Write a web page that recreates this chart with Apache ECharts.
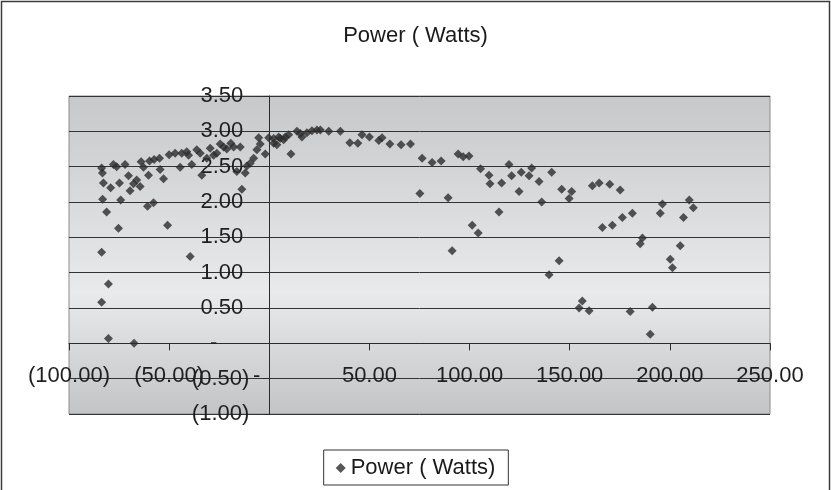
<!DOCTYPE html>
<html>
<head>
<meta charset="utf-8">
<script src="https://cdn.jsdelivr.net/npm/echarts@6/dist/echarts.min.js"></script>
<style>
  html, body { margin: 0; padding: 0; background: #ffffff; }
  #chart { width: 831px; height: 490px; }
</style>
</head>
<body>
<div id="chart"></div>
<script>
// Measured power samples: x position and power in watts
const powerX = [
  -83.7, -83.3, -82.8, -79.2, -83.2, -81.2, -75.3, -77.8, -76.2, -72.0,
  -74.8, -74.2, -70.3, -69.5, -67.8, -66.2, -64.5, -64.0, -62.8, -59.8,
  -60.3, -60.8, -57.8, -57.5, -54.8, -54.5, -52.8, -50.8, -50.0, -47.0,
  -44.5, -43.7, -41.2, -40.3, -38.7, -36.2, -34.5, -33.7, -31.2, -29.5,
  -27.8, -26.2, -24.5, -22.8, -21.2, -19.2, -17.8, -16.2, -14.5, -13.7,
  -12.0, -11.2, -9.5, -7.8, -6.2, -4.5, -5.3, -2.0, -0.3, 2.2, 4.7,
  -83.7, -39.5, -80.3, -83.7, -80.3, -67.5,
  2.2, 5.5, 8.0, 9.7, 10.8, 13.8, 16.3, 18.8, 21.3, 23.8,
  25.5, 29.7, 35.5, 40.2, 44.2, 46.3, 50.0, 54.7, 60.2, 65.8,
  70.5, 75.2, 76.3, 81.3, 85.8, 89.3, 94.3, 96.8, 99.7, 105.5,
  109.7, 110.2, 3.8, 7.2, 15.5, 56.3,
  114.7, 116.0, 119.7, 121.0, 124.7, 125.8, 129.7, 131.0, 134.7, 136.0,
  141.0, 146.0, 149.7, 151.0, 161.3, 164.7, 170.0, 175.2, 166.3, 171.3,
  176.3, 181.3, 195.2, 196.3, 206.8, 209.7, 211.7, 185.2, 186.3, 200.2,
  201.3, 205.2, 180.2, 191.3, 190.2, 91.3, 104.3, 101.3, 139.7, 144.7,
  156.3, 154.7, 159.7
];
const powerY = [
  2.48, 2.41, 2.27, 2.20, 2.04, 1.86, 1.63, 2.53, 2.50, 2.53,
  2.27, 2.03, 2.37, 2.16, 2.26, 2.31, 2.22, 2.57, 2.49, 2.58,
  2.38, 1.94, 1.99, 2.60, 2.62, 2.46, 2.33, 1.67, 2.67, 2.69,
  2.49, 2.69, 2.71, 2.66, 2.53, 2.74, 2.69, 2.38, 2.62, 2.76,
  2.66, 2.69, 2.82, 2.78, 2.75, 2.83, 2.78, 2.43, 2.78, 2.18,
  2.41, 2.51, 2.55, 2.62, 2.74, 2.82, 2.91, 2.68, 2.91, 2.90, 2.92,
  1.29, 1.23, 0.84, 0.58, 0.07, 0.00,
  2.83, 2.90, 2.92, 2.95, 2.68, 3.00, 2.92, 2.98, 3.01, 3.02,
  3.02, 3.00, 3.00, 2.84, 2.83, 2.95, 2.92, 2.87, 2.82, 2.81,
  2.82, 2.12, 2.62, 2.56, 2.58, 2.06, 2.68, 2.64, 2.65, 2.47,
  2.38, 2.26, 2.81, 2.88, 2.97, 2.91,
  1.86, 2.27, 2.53, 2.37, 2.15, 2.42, 2.37, 2.48, 2.29, 2.00,
  2.42, 2.18, 2.05, 2.15, 2.23, 2.27, 2.25, 2.17, 1.64, 1.67,
  1.78, 1.84, 1.84, 1.97, 1.78, 2.03, 1.92, 1.41, 1.49, 1.19,
  1.07, 1.38, 0.45, 0.51, 0.13, 1.31, 1.56, 1.67, 0.97, 1.17,
  0.60, 0.50, 0.46
];

const seriesName = 'Power ( Watts)';
const xRange = { min: -100, max: 250, step: 50 };
const yRange = { min: -1, max: 3.5, step: 0.5 };

const points = powerX.map((x, i) => [x, powerY[i]]);

// Accounting-style number format: negatives in brackets, zero as a dash
function acct(v, digits) {
  if (Math.abs(v) < 1e-9) return '{z|-}';
  const s = Math.abs(v).toFixed(digits);
  return v < 0 ? '(' + s + ')' : s;
}

// Plot box
const GRID = { left: 69, top: 96, width: 701, height: 318 };
// The axes cross at the origin, so each axis is shifted inward from the plot edge
const xAxisShift = -GRID.height * (0 - yRange.min) / (yRange.max - yRange.min);
const yAxisShift = -GRID.width * (0 - xRange.min) / (xRange.max - xRange.min);

const FONT = 'Liberation Sans, Arial, sans-serif';
const chart = echarts.init(document.getElementById('chart'), null, { renderer: 'canvas' });

chart.setOption({
  animation: false,
  backgroundColor: '#ffffff',
  textStyle: { fontFamily: FONT },
  graphic: [{
    type: 'rect',
    shape: { x: 1.5, y: 1.5, width: 828, height: 500 },
    style: { fill: 'none', stroke: '#3c3c3c', lineWidth: 1.5 },
    silent: true,
    z: 100
  }],
  title: {
    text: seriesName,
    left: 'center',
    top: 20,
    textStyle: { fontFamily: FONT, fontSize: 22, fontWeight: 'normal', color: '#1a1a1a' }
  },
  legend: {
    data: [{ name: seriesName, icon: 'diamond' }],
    left: 'center',
    top: 450,
    padding: [7, 13, 6, 12],
    itemWidth: 10,
    itemHeight: 10,
    itemGap: 6,
    borderColor: '#333333',
    borderWidth: 1,
    backgroundColor: '#ffffff',
    textStyle: { fontFamily: FONT, fontSize: 22, color: '#1a1a1a' }
  },
  grid: {
    left: GRID.left, top: GRID.top, width: GRID.width, height: GRID.height,
    outerBoundsMode: 'none',
    containLabel: false,
    show: true,
    borderColor: '#8c8c8c',
    borderWidth: 1,
    backgroundColor: new echarts.graphic.LinearGradient(0, 0, 0, 1, [
      { offset: 0, color: '#c7c8ca' },
      { offset: 0.62, color: '#e9eaec' },
      { offset: 1, color: '#c3c4c6' }
    ])
  },
  xAxis: {
    type: 'value',
    position: 'bottom',
    offset: xAxisShift,
    min: xRange.min, max: xRange.max, interval: xRange.step,
    axisLine: { onZero: false, lineStyle: { color: '#2b2b2b', width: 1 } },
    axisTick: { show: true, inside: false, length: 7, lineStyle: { color: '#2b2b2b' } },
    splitLine: { show: false },
    axisLabel: {
      showMinLabel: true, showMaxLabel: true,
      margin: 22,
      fontFamily: FONT, fontSize: 22, color: '#1f1f1f',
      formatter: v => acct(v, 2),
      rich: { z: { fontFamily: FONT, fontSize: 22, color: '#1f1f1f', padding: [0, 25, 0, 0] } }
    }
  },
  yAxis: {
    type: 'value',
    position: 'left',
    offset: yAxisShift,
    min: yRange.min, max: yRange.max, interval: yRange.step,
    axisLine: { onZero: false, lineStyle: { color: '#2b2b2b', width: 1 } },
    axisTick: { show: true, inside: false, length: 6, lineStyle: { color: '#2b2b2b' } },
    splitLine: { show: true, lineStyle: { color: '#333333', width: 1 } },
    axisLabel: {
      showMinLabel: true, showMaxLabel: true,
      margin: 20,
      fontFamily: FONT, fontSize: 22, color: '#1f1f1f',
      formatter: v => {
        const t = acct(v, 2);
        return v > 1e-9 ? '{p|' + t + '}' : t;
      },
      rich: {
        p: { fontFamily: FONT, fontSize: 22, color: '#1f1f1f', padding: [0, 6, 0, 0] },
        z: { fontFamily: FONT, fontSize: 22, color: '#1f1f1f', padding: [0, 32, 0, 0] }
      }
    }
  },
  series: [{
    name: seriesName,
    type: 'scatter',
    symbol: 'diamond',
    symbolSize: 9,
    itemStyle: { color: '#2c2c2c' },
    data: points
  }]
});
</script>
</body>
</html>
